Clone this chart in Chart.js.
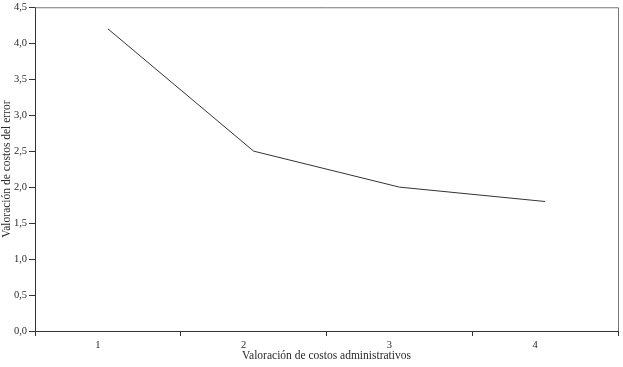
<!DOCTYPE html>
<html>
<head>
<meta charset="utf-8">
<script src="https://cdn.jsdelivr.net/npm/chart.js@4.4.1/dist/chart.umd.min.js"></script>
<style>
html,body{margin:0;padding:0;background:#fff;}
#wrap{width:623px;height:367px;}
</style>
</head>
<body>
<div id="wrap"><canvas id="c" width="623" height="367"></canvas></div>
<script>
const categories = ["1", "2", "3", "4"];
const errorCost = [4.2, 2.5, 2.0, 1.8];
const yTicks = [0, 0.5, 1, 1.5, 2, 2.5, 3, 3.5, 4, 4.5];
const xTitle = "Valoración de costos administrativos";
const yTitle = "Valoración de costos del error";

const fontFamily = "'Liberation Serif', 'DejaVu Serif', serif";
const textColor = "#2a2a2a";

const frame = {
  id: 'frame',
  afterDraw(chart) {
    const {ctx, chartArea: a} = chart;
    ctx.save();
    ctx.strokeStyle = '#777';
    ctx.lineWidth = 1;
    ctx.beginPath();
    ctx.moveTo(a.left, a.top + 0.5);
    ctx.lineTo(a.right + 0.5, a.top + 0.5);
    ctx.lineTo(a.right + 0.5, a.bottom);
    ctx.stroke();
    ctx.restore();
  }
};

new Chart(document.getElementById('c'), {
  type: 'line',
  data: {
    labels: categories,
    datasets: [{
      data: errorCost,
      borderColor: '#333',
      borderWidth: 1,
      pointRadius: 0,
      tension: 0,
      fill: false
    }]
  },
  options: {
    responsive: false,
    animation: false,
    layout: {padding: {top: 0, right: 5, left: 0, bottom: 0}},
    plugins: {legend: {display: false}, tooltip: {enabled: false}},
    scales: {
      x: {
        type: 'category',
        offset: true,
        grid: {offset: true, drawOnChartArea: false, drawTicks: true, tickLength: 5, color: '#333'},
        border: {color: '#333', width: 1},
        ticks: {
          color: textColor,
          font: {family: fontFamily, size: 10.5},
          padding: 3,
          maxRotation: 0,
          labelOffset: -10
        },
        title: {
          display: true,
          text: xTitle,
          color: textColor,
          font: {family: fontFamily, size: 11.5},
          padding: {top: 0, bottom: 4}
        },
        afterFit(s) { s.height = 36; }
      },
      y: {
        min: 0,
        max: 4.5,
        afterBuildTicks(s) { s.ticks = yTicks.map(v => ({value: v})); },
        grid: {drawOnChartArea: false, drawTicks: true, tickLength: 6, color: '#333'},
        border: {color: '#333', width: 1},
        ticks: {
          color: textColor,
          font: {family: fontFamily, size: 10.5, lineHeight: 1},
          padding: 2,
          callback: v => Number(v).toFixed(1).replace('.', ',')
        },
        title: {
          display: true,
          text: yTitle,
          color: textColor,
          font: {family: fontFamily, size: 11.5},
          padding: {top: 0, bottom: 0}
        },
        afterFit(s) { s.width = 35; }
      }
    }
  },
  plugins: [frame]
});
</script>
</body>
</html>
